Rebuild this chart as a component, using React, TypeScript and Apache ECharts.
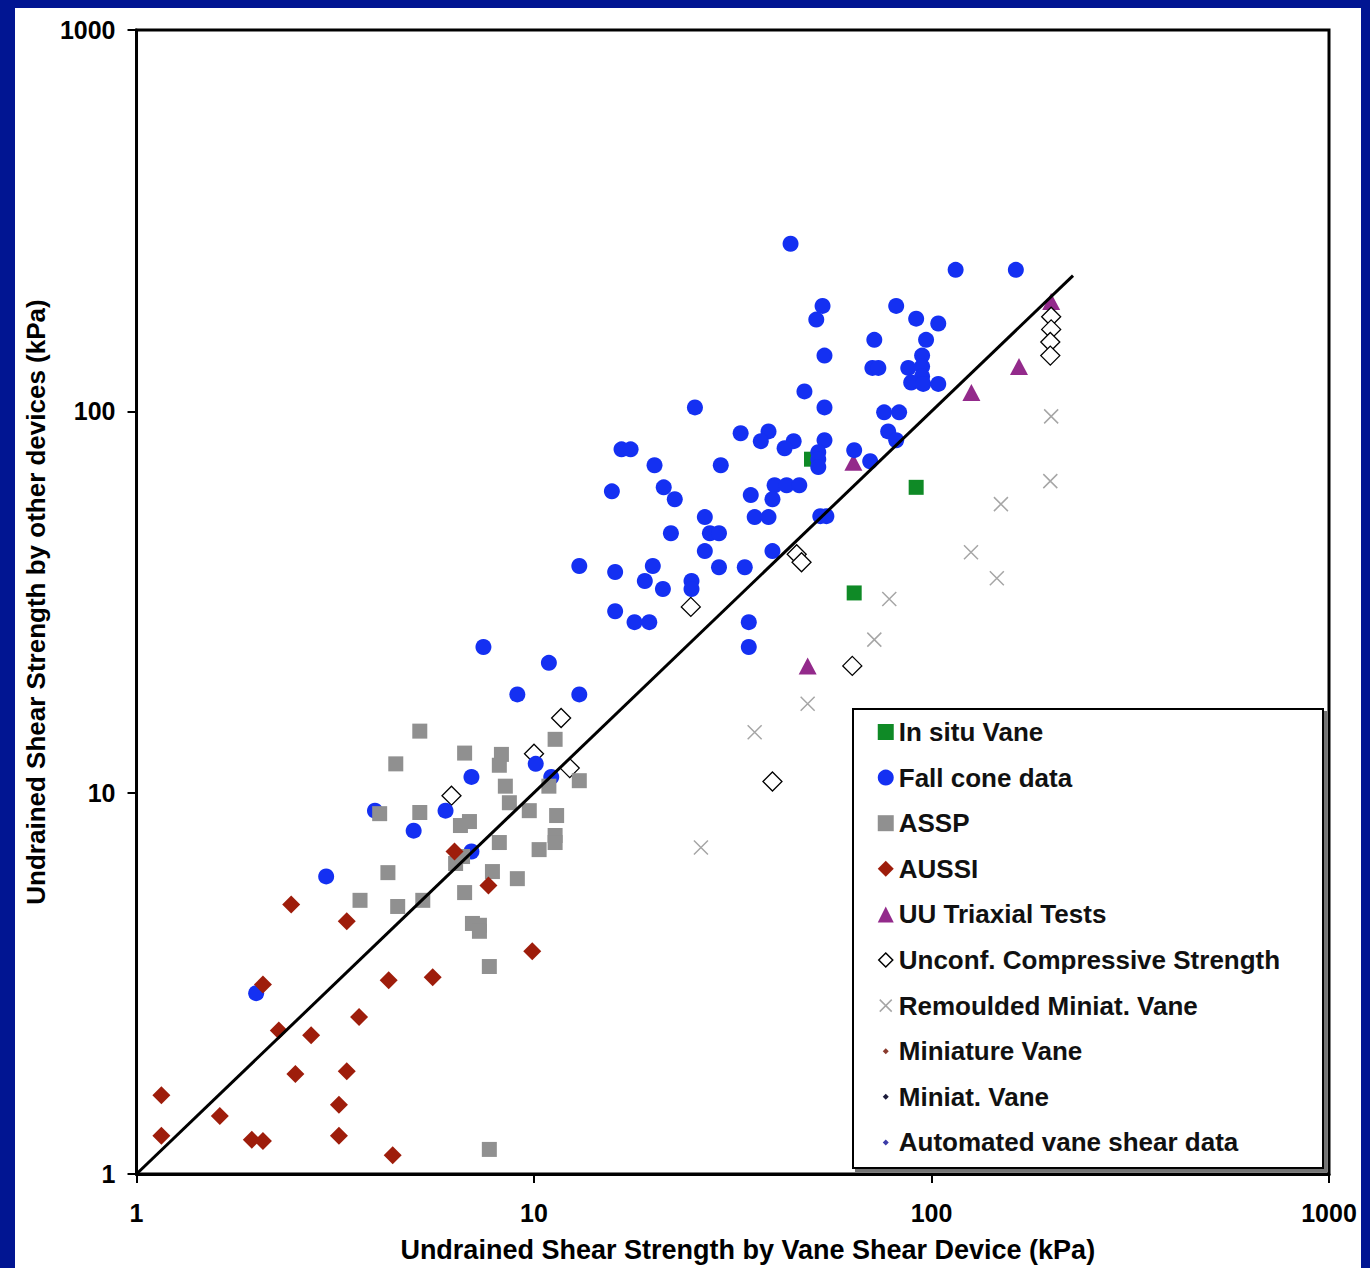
import React, { useEffect, useRef } from "react";
import * as echarts from "echarts";

// Data (x: vane shear device kPa, y: other devices kPa)
const inSituVane = [[49.9, 74.9], [91.5, 63.2], [63.9, 33.4]];

const fallCone = [
  [44.2, 275], [115, 235], [163, 235], [53.2, 189], [81.5, 189], [51.3, 174], [91.5, 175], [104, 170],
  [71.8, 154], [96.9, 154], [53.8, 140], [94.7, 140], [71.0, 130], [73.5, 130], [87.4, 130], [94.7, 131],
  [94.7, 123.5], [88.9, 119], [95.3, 118], [104, 118], [47.9, 112.8], [25.4, 102.4], [53.8, 102.4],
  [76.0, 99.4], [82.9, 99.4], [33.1, 87.6], [38.9, 88.6], [37.2, 83.5], [45.0, 83.5], [42.7, 80.0],
  [53.8, 84.0], [77.8, 88.6], [81.5, 84.0], [16.6, 79.5], [17.5, 79.5], [20.1, 72.2], [29.5, 72.2],
  [51.9, 78.1], [51.9, 74.9], [51.9, 71.4], [63.9, 79.1], [70.1, 74.0], [15.7, 61.7], [21.2, 63.2],
  [22.6, 58.8], [35.1, 60.3], [40.3, 64.0], [43.2, 64.0], [46.5, 64.0], [39.8, 58.8], [26.9, 52.8],
  [35.9, 52.8], [38.9, 52.8], [52.5, 53.1], [54.4, 53.1], [22.1, 47.9], [27.7, 47.9], [29.2, 47.9],
  [26.9, 43.0], [39.8, 43.0], [13.0, 39.3], [16.0, 37.9], [19.9, 39.3], [29.2, 39.0], [33.9, 39.0],
  [19.0, 35.9], [21.1, 34.2], [24.9, 35.9], [24.9, 34.2], [16.0, 29.9], [17.9, 28.0], [19.5, 28.0],
  [34.7, 28.0], [34.7, 24.1], [7.46, 24.1], [10.9, 21.9], [9.08, 18.1], [13.0, 18.1], [10.1, 11.9],
  [6.96, 11.0], [11.05, 11.0], [3.98, 8.97], [5.99, 8.97], [4.98, 7.95], [6.96, 7.01], [3.0, 6.03],
  [2.0, 2.98],
];

const assp = [
  [5.16, 14.5], [4.49, 11.9], [6.69, 12.7], [8.28, 12.6], [8.18, 11.8], [11.3, 13.8], [8.47, 10.4],
  [10.9, 10.4], [13.0, 10.75], [8.67, 9.41], [9.73, 8.97], [11.4, 8.71], [4.09, 8.81], [5.16, 8.87],
  [6.88, 8.4], [6.53, 8.2], [8.18, 7.4], [11.3, 7.72], [11.3, 7.4], [10.3, 7.09], [6.35, 6.52],
  [6.61, 6.8], [4.29, 6.17], [7.86, 6.21], [9.08, 5.95], [6.69, 5.47], [3.65, 5.22], [4.54, 5.03],
  [5.25, 5.22], [7.0, 4.54], [7.29, 4.49], [7.29, 4.33], [7.72, 3.5], [7.72, 1.16],
];

const aussi = [
  [6.31, 7.01], [2.45, 5.09], [3.38, 4.6], [7.68, 5.71], [9.9, 3.84], [2.08, 3.14], [4.31, 3.22],
  [5.56, 3.28], [3.63, 2.58], [2.28, 2.38], [2.75, 2.31], [2.51, 1.83], [3.38, 1.86], [1.155, 1.61],
  [1.62, 1.42], [3.23, 1.52], [1.155, 1.26], [1.95, 1.23], [2.08, 1.22], [3.23, 1.26], [4.41, 1.12],
];

const uuTriaxial = [[200, 194], [166, 131], [126, 112], [63.6, 73.5], [48.8, 21.5]];

const unconfCompressive = [
  [11.7, 15.7], [10.0, 12.65], [12.3, 11.6], [6.2, 9.82], [24.8, 30.7], [45.8, 42.2], [47.1, 40.2],
  [63.2, 21.5], [39.8, 10.7], [200, 177], [200, 164], [199, 152], [199, 140],
];

const remouldedVane = [
  [200, 97.0], [199, 65.6], [149.5, 57.1], [125.7, 42.7], [146, 36.5], [78.3, 32.2], [71.8, 25.2],
  [48.8, 17.1], [35.9, 14.4], [26.3, 7.18],
];

const miniatureVane: number[][] = [];
const miniatVane: number[][] = [];
const automatedVane: number[][] = [];

const lineOfEquality = [[1, 1], [227, 227]];

const xTickLabels = ["1", "10", "100", "1000"];
const yTickLabels = ["1", "10", "100", "1000"];

const FONT = "'Liberation Sans', Arial, sans-serif";

const tickLabel = (labels: string[]) => (v: number) => {
  const idx = Math.round(Math.log10(v));
  return labels[idx] ?? "";
};

const TINY = (c: string) => ({
  icon: "path://M0 0M16 16M8 5L11 8L8 11L5 8Z",
  itemStyle: { color: c },
});

export default function App() {
  const ref = useRef<HTMLDivElement>(null);

  useEffect(() => {
    const chart = echarts.init(ref.current!, null, { renderer: "svg" });
    const axisCommon = {
      type: "log" as const,
      logBase: 10,
      min: 1,
      max: 1000,
      axisLine: { show: true, lineStyle: { color: "#000", width: 3 } },
      axisTick: { show: true, inside: false, length: 9, lineStyle: { color: "#000", width: 2 } },
      minorTick: { show: false },
      splitLine: { show: false },
      nameLocation: "middle" as const,
    };
    chart.setOption({
      animation: false,
      backgroundColor: "#ffffff",
      grid: {
        left: 117,
        top: 22,
        width: 1197,
        height: 1146,
        show: true,
        borderColor: "#000",
        borderWidth: 3,
        backgroundColor: "#fff",
      },
      xAxis: {
        ...axisCommon,
        axisLabel: {
          margin: 26,
          color: "#000",
          fontSize: 25,
          fontWeight: "bold",
          fontFamily: FONT,
          formatter: tickLabel(xTickLabels),
        },
        name: "Undrained Shear Strength by Vane Shear Device (kPa)",
        nameGap: 62,
        nameTextStyle: {
          fontSize: 27,
          fontWeight: "bold",
          color: "#000",
          fontFamily: FONT,
          padding: [0, 0, 0, 30],
        },
      },
      yAxis: {
        ...axisCommon,
        axisLabel: {
          margin: 21,
          color: "#000",
          fontSize: 25,
          fontWeight: "bold",
          fontFamily: FONT,
          formatter: tickLabel(yTickLabels),
        },
        name: "Undrained Shear Strength by other devices (kPa)",
        nameGap: 81,
        nameTextStyle: {
          fontSize: 26,
          fontWeight: "bold",
          color: "#000",
          fontFamily: FONT,
        },
      },
      graphic: [
        {
          type: "rect",
          z: 15,
          shape: { x: 838, y: 701, width: 470, height: 459 },
          style: {
            fill: "#fff",
            stroke: "#000",
            lineWidth: 2,
            shadowColor: "rgba(0,0,0,0.55)",
            shadowOffsetX: 3,
            shadowOffsetY: 3,
            shadowBlur: 0,
          },
        },
      ],
      legend: {
        orient: "vertical",
        left: 862,
        top: 709,
        padding: 0,
        itemGap: 15.6,
        itemWidth: 16,
        itemHeight: 16,
        selectedMode: false,
        z: 20,
        textStyle: {
          fontSize: 26,
          fontWeight: "bold",
          fontFamily: FONT,
          color: "#111",
          lineHeight: 30,
        },
        data: [
          { name: "In situ Vane", icon: "rect", itemStyle: { color: "#0f8a26", opacity: 1 } },
          { name: "Fall cone data", icon: "circle", itemStyle: { color: "#1430f2", opacity: 1 } },
          { name: "ASSP", icon: "rect", itemStyle: { color: "#909090", opacity: 1 } },
          { name: "AUSSI", icon: "diamond", itemStyle: { color: "#9e1d0b", opacity: 1 } },
          { name: "UU Triaxial Tests", icon: "triangle", itemStyle: { color: "#932a8b", opacity: 1 } },
          {
            name: "Unconf. Compressive Strength",
            icon: "path://M0 0M16 16M8 1L15 8L8 15L1 8Z",
            itemStyle: { color: "#fff", borderColor: "#000", borderWidth: 1.5, opacity: 1 },
          },
          {
            name: "Remoulded Miniat. Vane",
            icon: "path://M0 0M16 16M2 2L14 14M14 2L2 14",
            itemStyle: { color: "transparent", borderColor: "#a6a6a6", borderWidth: 1.5, opacity: 1 },
          },
          { name: "Miniature Vane", ...TINY("#8a3b2e") },
          { name: "Miniat. Vane", ...TINY("#1b1b3a") },
          { name: "Automated vane shear data", ...TINY("#3c3ca8") },
        ],
      },
      series: [
        {
          name: "In situ Vane",
          type: "scatter",
          data: inSituVane,
          symbol: "rect",
          symbolSize: 15,
          itemStyle: { color: "#0f8a26", opacity: 1 },
          z: 2,
        },
        {
          name: "UU Triaxial Tests",
          type: "scatter",
          data: uuTriaxial,
          symbol: "triangle",
          symbolSize: [18, 17],
          itemStyle: { color: "#932a8b", opacity: 1 },
          z: 2,
        },
        {
          name: "Unconf. Compressive Strength",
          type: "scatter",
          data: unconfCompressive,
          symbol: "diamond",
          symbolSize: 19,
          itemStyle: { color: "#fff", borderColor: "#000", borderWidth: 1.3, opacity: 1 },
          z: 2,
        },
        {
          name: "Remoulded Miniat. Vane",
          type: "scatter",
          data: remouldedVane,
          symbol: "path://M0 0L10 10M10 0L0 10",
          symbolSize: 14,
          itemStyle: { color: "transparent", borderColor: "#a6a6a6", borderWidth: 1.5, opacity: 1 },
          z: 2,
        },
        {
          name: "Fall cone data",
          type: "scatter",
          data: fallCone,
          symbol: "circle",
          symbolSize: 16,
          itemStyle: { color: "#1430f2", opacity: 1 },
          z: 3,
        },
        {
          name: "ASSP",
          type: "scatter",
          data: assp,
          symbol: "rect",
          symbolSize: 15,
          itemStyle: { color: "#909090", opacity: 1 },
          z: 4,
        },
        {
          name: "AUSSI",
          type: "scatter",
          data: aussi,
          symbol: "diamond",
          symbolSize: 18,
          itemStyle: { color: "#9e1d0b", opacity: 1 },
          z: 4,
        },
        {
          name: "Miniature Vane",
          type: "scatter",
          data: miniatureVane,
          symbol: "diamond",
          symbolSize: 5,
          itemStyle: { color: "#8a3b2e", opacity: 1 },
        },
        {
          name: "Miniat. Vane",
          type: "scatter",
          data: miniatVane,
          symbol: "diamond",
          symbolSize: 5,
          itemStyle: { color: "#1b1b3a", opacity: 1 },
        },
        {
          name: "Automated vane shear data",
          type: "scatter",
          data: automatedVane,
          symbol: "diamond",
          symbolSize: 5,
          itemStyle: { color: "#3c3ca8", opacity: 1 },
        },
        {
          name: "1:1",
          type: "line",
          data: lineOfEquality,
          symbol: "none",
          showSymbol: false,
          lineStyle: { color: "#000", width: 3 },
          z: 6,
        },
      ],
    });
    return () => chart.dispose();
  }, []);

  return (
    <div
      style={{
        position: "absolute",
        left: 0,
        top: 0,
        width: 1370,
        height: 1268,
        background: "#011592",
      }}
    >
      <div
        ref={ref}
        style={{
          position: "absolute",
          left: 15,
          top: 8,
          width: 1346,
          height: 1260,
          background: "#fff",
        }}
      />
    </div>
  );
}
